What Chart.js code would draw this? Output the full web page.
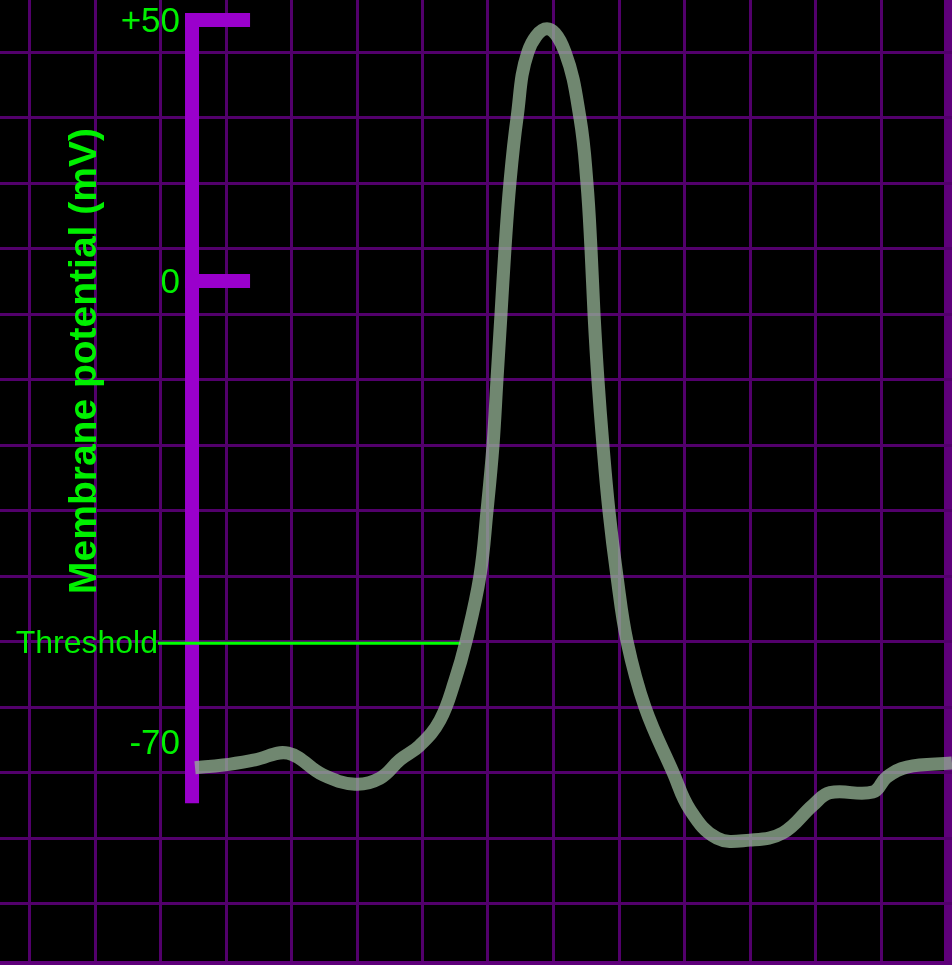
<!DOCTYPE html>
<html lang="en">
<head>
<meta charset="UTF-8">
<title>Action potential</title>
<script src="https://cdn.jsdelivr.net/npm/chart.js@4.4.0/dist/chart.umd.min.js"></script>
<style>
  html, body { margin: 0; padding: 0; background: #000; }
  canvas { display: block; }
</style>
</head>
<body>
<canvas id="apChart" width="952" height="965"></canvas>
<script>
// trace: time in ms (axis at 0), potential in mV
const timeMs = [0.023, 0.237, 0.481, 0.733, 1.000, 1.244, 1.435, 1.588, 1.740, 1.893, 2.008,
                2.092, 2.198, 2.252, 2.298, 2.328, 2.359, 2.389, 2.427, 2.481, 2.565, 2.710,
                2.847, 2.962, 3.015, 3.046, 3.069, 3.099, 3.137, 3.183, 3.244, 3.321, 3.458,
                3.672, 3.802, 4.008, 4.260, 4.511, 4.740, 4.870, 5.198, 5.305, 5.458, 5.802];
const membraneMv = [-73.9, -73.5, -72.7, -71.7, -75.0, -76.4, -75.5, -72.7, -70.5, -66.7, -60.6,
                    -54.7, -44.8, -34.9, -24.9, -15.0, -5.0, 6.1, 18.8, 31.2, 43.9, 48.3,
                    43.9, 31.2, 18.8, 6.1, -5.0, -15.0, -24.9, -34.9, -44.8, -54.7, -64.7,
                    -74.6, -80.3, -84.6, -84.9, -83.8, -79.6, -77.7, -77.6, -75.3, -73.8, -73.2];

const yTickValues = [50, 0, -70];
const yTickLabels = ['+50', '0', '-70'];
const markedTicks = [50, 0];
const thresholdMv = -55;
const thresholdSpan = [-0.26, 2.05];
const axisBottomMv = -79.3;
const yTitle = 'Membrane potential (mV)';
const thresholdLabel = 'Threshold';

// the drawing is stretched differently above and below 0 mV
const GAIN_UP = 5.22, GAIN_DOWN = 6.586;
class SplitLinearScale extends Chart.LinearScale {
    warp(v) { return v >= 0 ? v * GAIN_UP : v * GAIN_DOWN; }
    getPixelForValue(v) {
        const a = this.warp(this.min), b = this.warp(this.max);
        return this.getPixelForDecimal((this.warp(v) - a) / (b - a));
    }
    getValueForPixel(p) {
        const a = this.warp(this.min), b = this.warp(this.max);
        const w = a + this.getDecimalForPixel(p) * (b - a);
        return w >= 0 ? w / GAIN_UP : w / GAIN_DOWN;
    }
}
SplitLinearScale.id = 'splitLinear';
Chart.register(SplitLinearScale);

const GREEN = '#00f000';
const PURPLE = '#9a00cc';

const gridXs = [], gridYs = [];
for (let k = 0; k < 14; k++) { gridXs.push(29.5 + 65.5 * k); gridYs.push(52 + 65.5 * k); }
gridXs.push(948);
gridYs.push(963);

const axisDecor = {
    id: 'axisDecor',
    beforeDatasetsDraw(chart) {
        const ctx = chart.ctx;
        const x = chart.scales.x, y = chart.scales.y;
        const ax = x.getPixelForValue(0);
        ctx.save();
        ctx.strokeStyle = PURPLE;
        ctx.lineWidth = 14;
        ctx.lineCap = 'butt';
        ctx.beginPath();
        ctx.moveTo(ax, y.getPixelForValue(50) - 7);
        ctx.lineTo(ax, y.getPixelForValue(axisBottomMv));
        ctx.stroke();
        markedTicks.forEach(v => {
            const py = y.getPixelForValue(v);
            ctx.beginPath();
            ctx.moveTo(ax - 7, py);
            ctx.lineTo(x.getPixelForValue(0.443), py);
            ctx.stroke();
        });

        ctx.fillStyle = GREEN;
        ctx.font = '35px "Liberation Sans", Arial, sans-serif';
        ctx.textAlign = 'right';
        ctx.textBaseline = 'middle';
        yTickValues.forEach((v, i) => {
            ctx.fillText(yTickLabels[i], ax - 12, y.getPixelForValue(v) + 2);
        });

        ctx.font = '32px "Liberation Sans", Arial, sans-serif';
        ctx.textBaseline = 'alphabetic';
        ctx.fillText(thresholdLabel, x.getPixelForValue(thresholdSpan[0]), y.getPixelForValue(thresholdMv) + 10);

        ctx.translate(96, 361);
        ctx.rotate(-Math.PI / 2);
        ctx.font = 'bold 39px "Liberation Sans", Arial, sans-serif';
        ctx.textAlign = 'center';
        ctx.fillText(yTitle, 0, 0);
        ctx.restore();
    }
};

const ctx = document.getElementById('apChart').getContext('2d');
const apChart = new Chart(ctx, {
    type: 'line',
    data: {
        datasets: [{
            data: timeMs.map((t, i) => ({x: t, y: membraneMv[i]})),
            borderColor: 'rgba(150, 180, 150, 0.75)',
            borderWidth: 13,
            borderJoinStyle: 'round',
            tension: 0.4,
            pointRadius: 0,
            order: 0
        }, {
            data: thresholdSpan.map(t => ({x: t, y: thresholdMv})),
            borderColor: '#00ff00',
            borderWidth: 3,
            pointRadius: 0,
            order: 1
        }]
    },
    options: {
        responsive: false,
        animation: false,
        layout: {padding: 0},
        plugins: {legend: {display: false}, tooltip: {enabled: false}},
        scales: {
            x: {type: 'linear', min: -1.466, max: 5.802, display: false},
            y: {type: 'splitLinear', min: -103.86, max: 53.83, display: false},
            gx: {
                type: 'linear', axis: 'x', position: 'bottom', min: 0, max: 952,
                ticks: {display: false}, border: {display: false},
                grid: {
                    drawTicks: false,
                    color: c => c.tick && c.tick.value === 948 ? '#5e007a' : '#52006b',
                    lineWidth: c => c.tick && c.tick.value === 948 ? 8 : 3
                },
                afterBuildTicks: s => { s.ticks = gridXs.map(v => ({value: v})); }
            },
            gy: {
                type: 'linear', axis: 'y', position: 'left', min: 0, max: 965, reverse: true,
                ticks: {display: false}, border: {display: false},
                grid: {
                    drawTicks: false,
                    color: c => c.tick && c.tick.value === 963 ? '#5e007a' : '#52006b',
                    lineWidth: c => c.tick && c.tick.value === 963 ? 4 : 3
                },
                afterBuildTicks: s => { s.ticks = gridYs.map(v => ({value: v})); }
            }
        }
    },
    plugins: [axisDecor]
});
</script>
</body>
</html>
